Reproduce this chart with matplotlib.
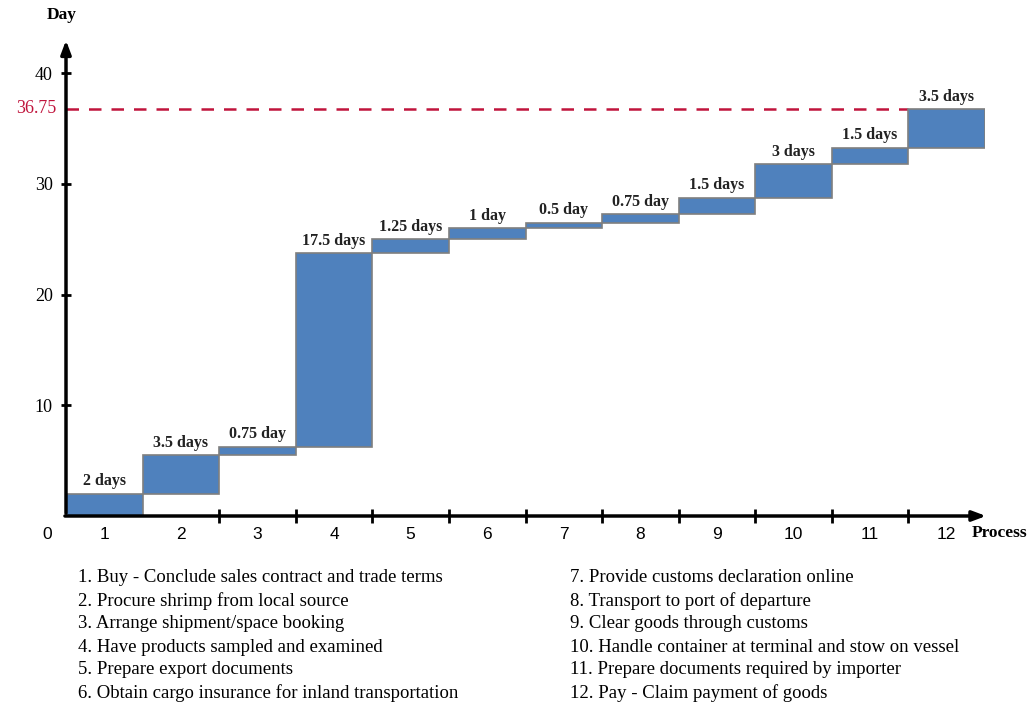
import numpy as np
import matplotlib.pyplot as plt

# Data
processes = list(range(1, 13))
durations = [2, 3.5, 0.75, 17.5, 1.25, 1, 0.5, 0.75, 1.5, 3, 1.5, 3.5]
bar_labels = ["2 days", "3.5 days", "0.75 day", "17.5 days", "1.25 days", "1 day",
              "0.5 day", "0.75 day", "1.5 days", "3 days", "1.5 days", "3.5 days"]
y_ticks = [10, 20, 30, 40]
steps_left = ["1. Buy - Conclude sales contract and trade terms",
              "2. Procure shrimp from local source",
              "3. Arrange shipment/space booking",
              "4. Have products sampled and examined",
              "5. Prepare export documents",
              "6. Obtain cargo insurance for inland transportation"]
steps_right = ["7. Provide customs declaration online",
               "8. Transport to port of departure",
               "9. Clear goods through customs",
               "10. Handle container at terminal and stow on vessel",
               "11. Prepare documents required by importer",
               "12. Pay - Claim payment of goods"]

total = sum(durations)
bottoms = np.cumsum([0] + durations[:-1])

W, H = 1032, 706
fig = plt.figure(figsize=(W / 100, H / 100), dpi=100)
ax = fig.add_axes([66 / W, (H - 516) / H, (985 - 66) / W, (516 - 73) / H])
ax.set_xlim(0, 12)
ax.set_ylim(0, 40)

serif = "Liberation Serif"
sans = "Liberation Sans"

# Bars
x = np.array(processes) - 0.5
ax.bar(x, durations, bottom=bottoms, width=1.0, color="#4F81BD",
       edgecolor="#7F7F7F", linewidth=1.2, zorder=2)

for xi, b, d, lab in zip(x, bottoms, durations, bar_labels):
    ax.text(xi, b + d + 0.4, lab, ha="center", va="bottom", fontsize=11.5,
            fontweight="bold", family=serif, color="#222222", zorder=3)

# Total line
ax.plot([0, 11], [total, total], color="#C0143C", linestyle=(0, (5, 4)),
        linewidth=1.8, zorder=1)
ax.text(-0.13, total, f"{total:g}", color="#C0143C", ha="right", va="center",
        fontsize=13, family=serif)

# Axes styling
for s in ["top", "right", "left", "bottom"]:
    ax.spines[s].set_visible(False)
ax.annotate("", xy=(0, 43.2), xytext=(0, 0), xycoords="data",
            arrowprops=dict(arrowstyle="-|>,head_length=0.8,head_width=0.3",
                            color="black", lw=2.5), annotation_clip=False)
ax.annotate("", xy=(12.05, 0), xytext=(-0.05, 0), xycoords="data",
            arrowprops=dict(arrowstyle="-|>,head_length=0.8,head_width=0.3",
                            color="black", lw=2.5), annotation_clip=False)

ax.set_yticks(y_ticks)
ax.set_yticklabels([str(t) for t in y_ticks], fontsize=13, family=serif)
ax.tick_params(axis="y", direction="inout", length=7, width=2, pad=6)
ax.set_xticks(range(2, 12))
ax.set_xticklabels([])
ax.tick_params(axis="x", direction="inout", length=10, width=2)

for p, xi in zip(processes, x):
    ax.text(xi, -1.0, str(p), ha="center", va="top", fontsize=12.5, family=sans)
ax.text(-0.24, -1.0, "0", ha="center", va="top", fontsize=12.5, family=sans)

fig.text(62 / W, 1 - 15 / H, "Day", ha="center", va="center", fontsize=12.5,
         fontweight="bold", family=serif)
fig.text(1000 / W, 1 - 533 / H, "Process", ha="center", va="center",
         fontsize=12.5, fontweight="bold", family=serif)

# Step descriptions
for i, (l, r) in enumerate(zip(steps_left, steps_right)):
    yy = 1 - (578 + 23 * i) / H
    fig.text(78 / W, yy, l, ha="left", va="center", fontsize=13.5, family=serif)
    fig.text(570 / W, yy, r, ha="left", va="center", fontsize=13.5, family=serif)

fig.savefig("out.png", dpi=100)
